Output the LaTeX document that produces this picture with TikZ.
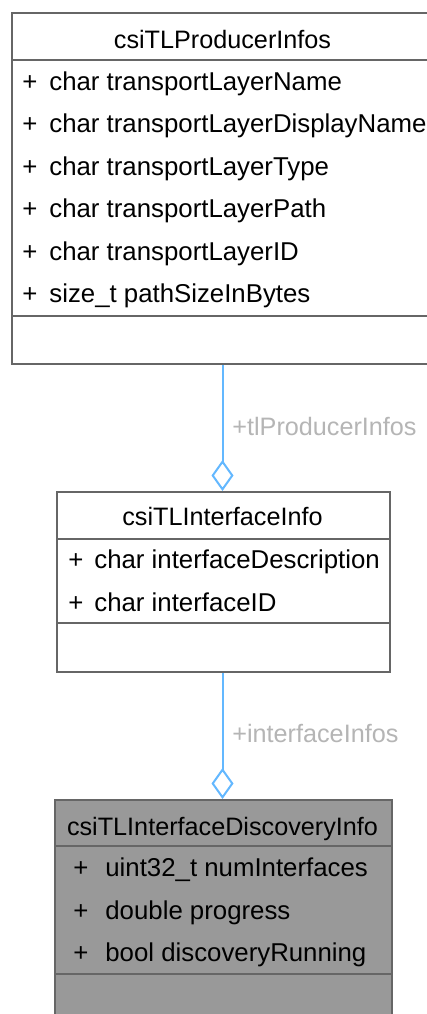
\documentclass[tikz,border=0pt]{standalone}
\usepackage{fontspec}
\setmainfont{Liberation Sans}
\usetikzlibrary{arrows.meta}
\definecolor{boxborder}{HTML}{666666}
\definecolor{boxfill}{HTML}{999999}
\definecolor{edgeblue}{HTML}{63B8FF}
\definecolor{labelgray}{HTML}{B5B5B5}
\begin{document}
\begin{tikzpicture}[x=0.5pt,y=-0.5pt,
  classbox/.style={draw=boxborder, line width=1.2pt, rectangle, inner sep=0pt, anchor=north west},
  sepline/.style={draw=boxborder, line width=1.2pt},
  txt/.style={anchor=base west, inner sep=0pt, font=\fontsize{12.9}{15}\selectfont},
  hdr/.style={anchor=base, inner sep=0pt, font=\fontsize{12.6}{15}\selectfont},
  lbl/.style={anchor=base west, inner sep=0pt, text=labelgray, font=\fontsize{12.6}{15}\selectfont},
  assoc/.style={draw=edgeblue, line width=1pt, -{Diamond[open, length=15.5pt, width=11pt]}}
]
\useasboundingbox (0,0) rectangle (427,1014);
\fill[white] (0,0) rectangle (427,1014);

% top box
\node[classbox, minimum width=211.5pt, minimum height=175.5pt] (prod) at (11,12) {};
\draw[sepline] (11,60) -- (434,60);
\draw[sepline] (11,316) -- (434,316);
\node[hdr] (prodh) at (222.5,48) {csiTLProducerInfos};
\node[txt] (p1) at (22,90) {+};
\node[txt] (p1t) at (49,90) {char transportLayerName};
\node[txt] (p2) at (22,132.5) {+};
\node[txt] (p2t) at (49,132.5) {char transportLayerDisplayName};
\node[txt] (p3) at (22,175) {+};
\node[txt] (p3t) at (49,175) {char transportLayerType};
\node[txt] (p4) at (22,217.5) {+};
\node[txt] (p4t) at (49,217.5) {char transportLayerPath};
\node[txt] (p5) at (22,260) {+};
\node[txt] (p5t) at (49,260) {char transportLayerID};
\node[txt] (p6) at (22,302) {+};
\node[txt] (p6t) at (49,302) {size\_t pathSizeInBytes};

% middle box
\node[classbox, minimum width=166.5pt, minimum height=90pt] (iface) at (56,491) {};
\draw[sepline] (56,539) -- (389,539);
\draw[sepline] (56,623) -- (389,623);
\node[hdr] (ifaceh) at (222.5,525) {csiTLInterfaceInfo};
\node[txt] (i1) at (68,568) {+};
\node[txt] (i1t) at (94,568) {char interfaceDescription};
\node[txt] (i2) at (68,611) {+};
\node[txt] (i2t) at (94,611) {char interfaceID};

% bottom box
\node[classbox, fill=boxfill, minimum width=168.5pt, minimum height=120pt] (disc) at (54,799) {};
\draw[sepline] (54,846) -- (391,846);
\draw[sepline] (54,974) -- (391,974);
\node[hdr] (disch) at (222.5,835) {csiTLInterfaceDiscoveryInfo};
\node[txt] (d1) at (73,876) {+};
\node[txt] (d1t) at (105,876) {uint32\_t numInterfaces};
\node[txt] (d2) at (73,919) {+};
\node[txt] (d2t) at (105,919) {double progress};
\node[txt] (d3) at (73,961) {+};
\node[txt] (d3t) at (105,961) {bool discoveryRunning};

% connectors
\coordinate (c1s) at (prod.south -| 222.5,0);
\coordinate (c1e) at (iface.north -| 222.5,0);
\draw[assoc] (c1s) -- (c1e);
\node[lbl] (l1) at (232,435) {+tlProducerInfos};

\coordinate (c2s) at (iface.south -| 222.5,0);
\coordinate (c2e) at (disc.north -| 222.5,0);
\draw[assoc] (c2s) -- (c2e);
\node[lbl] (l2) at (232,742) {+interfaceInfos};
\end{tikzpicture}
\end{document}
